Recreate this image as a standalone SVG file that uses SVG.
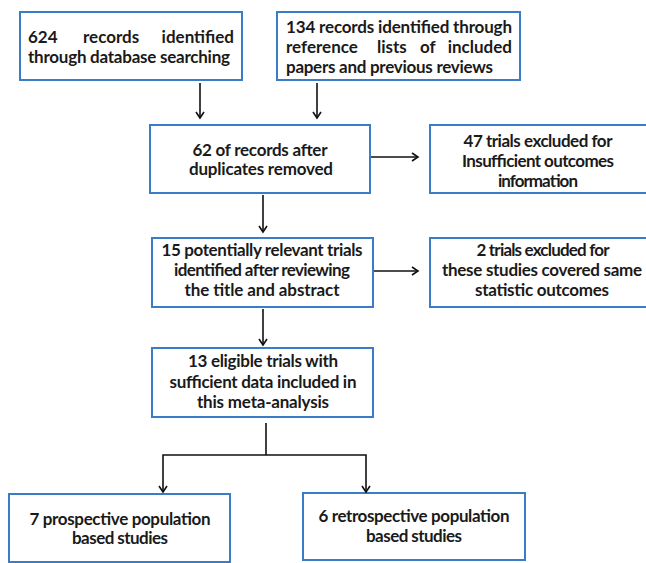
<svg xmlns="http://www.w3.org/2000/svg" width="646" height="563" viewBox="0 0 646 563">
<defs>
<marker id="ah" markerWidth="10" markerHeight="10" refX="8" refY="5" orient="auto" markerUnits="userSpaceOnUse">
<path d="M2,1 L8,5 L2,9" fill="none" stroke="#111" stroke-width="1.6"/>
</marker>
<style>
.box{fill:#fff;stroke:#3a7dc6;stroke-width:2}
.t{font-family:Lato,"Open Sans","Liberation Sans",sans-serif;font-weight:bold;font-size:17px;fill:#1a1a1a}
.c{text-anchor:middle}
.ln{fill:none;stroke:#111;stroke-width:1.6}
</style>
</defs>
<rect width="646" height="563" fill="#fff"/>
<g id="n1">
<rect class="box" x="20" y="12" width="222" height="68"/>
<text class="t" x="28" y="43">624</text>
<text class="t" x="83" y="43">records</text>
<text class="t" x="234" y="43" text-anchor="end">identified</text>
<text class="t" x="28" y="63" textLength="202">through database searching</text>
</g>
<g id="n2">
<rect class="box" x="277" y="12" width="243" height="68"/>
<text class="t" x="286" y="33" textLength="226">134 records identified through</text>
<text class="t" x="286" y="53">reference</text>
<text class="t" x="377" y="53">lists</text>
<text class="t" x="420" y="53">of</text>
<text class="t" x="512" y="53" text-anchor="end">included</text>
<text class="t" x="286" y="73" textLength="207">papers and previous reviews</text>
</g>
<g id="n3">
<rect class="box" x="150" y="125" width="220" height="68"/>
<text class="t c" x="260" y="156" textLength="135">62 of records after</text>
<text class="t c" x="261" y="175" textLength="144">duplicates removed</text>
</g>
<g id="n4">
<rect class="box" x="430" y="125" width="222" height="68"/>
<text class="t c" x="538" y="147" textLength="149">47 trials excluded for</text>
<text class="t c" x="538" y="167" textLength="152">Insufficient outcomes</text>
<text class="t c" x="538" y="187" textLength="80">information</text>
</g>
<g id="n5">
<rect class="box" x="152" y="238" width="221" height="69"/>
<text class="t c" x="262" y="256" textLength="201">15 potentially relevant trials</text>
<text class="t c" x="262" y="276" textLength="176">identified after reviewing</text>
<text class="t c" x="262" y="296" textLength="155">the title and abstract</text>
</g>
<g id="n6">
<rect class="box" x="430" y="238" width="222" height="69"/>
<text class="t c" x="543" y="256" textLength="133">2 trials excluded for</text>
<text class="t c" x="542" y="276" textLength="200">these studies covered same</text>
<text class="t c" x="542" y="296" textLength="134">statistic outcomes</text>
</g>
<g id="n7">
<rect class="box" x="152" y="348" width="221" height="69"/>
<text class="t c" x="263" y="367" textLength="150">13 eligible trials with</text>
<text class="t c" x="263" y="388" textLength="187">sufficient data included in</text>
<text class="t c" x="263" y="408" textLength="132">this meta-analysis</text>
</g>
<g id="n8">
<rect class="box" x="9" y="494" width="221" height="68"/>
<text class="t c" x="120" y="525" textLength="181">7 prospective population</text>
<text class="t c" x="120" y="544" textLength="96">based studies</text>
</g>
<g id="n9">
<rect class="box" x="303" y="493" width="222" height="67"/>
<text class="t c" x="414" y="522" textLength="191">6 retrospective population</text>
<text class="t c" x="414" y="542" textLength="96">based studies</text>
</g>
<g id="connectors">
<line class="ln" x1="200" y1="83" x2="200" y2="118" marker-end="url(#ah)"/>
<line class="ln" x1="317" y1="83" x2="317" y2="118" marker-end="url(#ah)"/>
<line class="ln" x1="371" y1="157" x2="418" y2="157" marker-end="url(#ah)"/>
<line class="ln" x1="263" y1="195" x2="263" y2="232" marker-end="url(#ah)"/>
<line class="ln" x1="374" y1="271" x2="418" y2="271" marker-end="url(#ah)"/>
<line class="ln" x1="263" y1="309" x2="263" y2="345" marker-end="url(#ah)"/>
<line class="ln" x1="266" y1="423" x2="266" y2="455"/>
<path class="ln" d="M266,455 H163 V492" marker-end="url(#ah)"/>
<path class="ln" d="M266,455 H366 V492" marker-end="url(#ah)"/>
</g>
</svg>
